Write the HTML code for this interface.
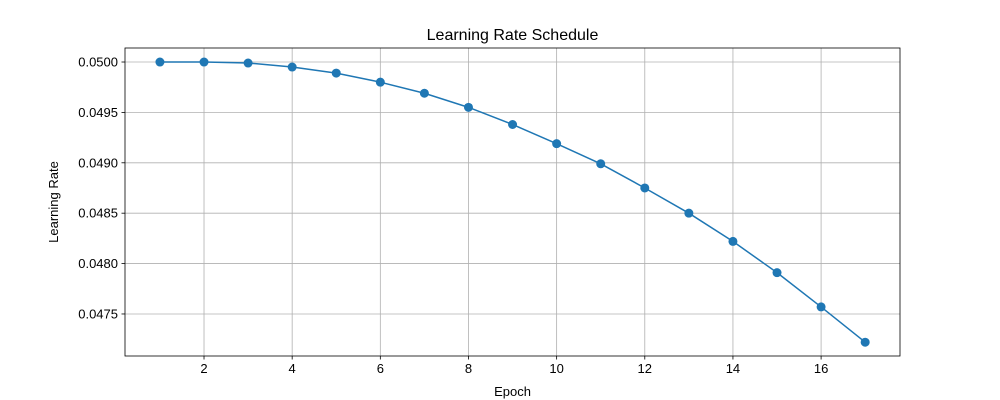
<!DOCTYPE html>
<html><head><meta charset="utf-8"><style>
html,body{margin:0;padding:0;background:#fff;}
svg{display:block;font-family:"Liberation Sans","DejaVu Sans",sans-serif;}
</style></head><body>
<svg id="chart" width="1000" height="400"></svg>
<script>
const epochs = [1,2,3,4,5,6,7,8,9,10,11,12,13,14,15,16,17];
const rates = [0.05000,0.05000,0.04999,0.04995,0.04989,0.04980,0.04969,0.04955,0.04938,0.04919,0.04899,0.04875,0.04850,0.04822,0.04791,0.04757,0.04722];
const xTicks = [2,4,6,8,10,12,14,16];
const yTicks = [0.0475,0.0480,0.0485,0.0490,0.0495,0.0500];
const yTickLabels = ["0.0475","0.0480","0.0485","0.0490","0.0495","0.0500"];

const L=125,R=900,T=48,B=356;
const xMin=0.2074,xMax=17.79,yMin=0.047083,yMax=0.050139;
const sx=v=>L+(v-xMin)/(xMax-xMin)*(R-L);
const sy=v=>B-(v-yMin)/(yMax-yMin)*(B-T);
const svg=document.getElementById('chart');
const NS='http://www.w3.org/2000/svg';
function mk(tag,attrs,parent){const e=document.createElementNS(NS,tag);for(const k in attrs)e.setAttribute(k,attrs[k]);(parent||svg).appendChild(e);return e;}

const grid=mk('g',{});


xTicks.forEach(t=>{
  const x=sx(t);
  const gl=mk('line',{x1:x,x2:x,y1:T,y2:B,stroke:'#b0b0b0','stroke-width':0.8},grid);
  
  
  mk('line',{x1:x,x2:x,y1:B,y2:B+3.5,stroke:'#000','stroke-width':0.8});
  const tx=mk('text',{x:x,y:B+17,'text-anchor':'middle','font-size':13});
  tx.textContent=t;
  
  
});
yTicks.forEach((t,i)=>{
  const y=sy(t);
  const gl=mk('line',{x1:L,x2:R,y1:y,y2:y,stroke:'#b0b0b0','stroke-width':0.8},grid);
  
  
  mk('line',{x1:L-3.5,x2:L,y1:y,y2:y,stroke:'#000','stroke-width':0.8});
  const tx=mk('text',{x:L-7,y:y+4.5,'text-anchor':'end','font-size':13});
  tx.textContent=yTickLabels[i];
  
  
});

const pts=epochs.map((e,i)=>sx(e)+','+sy(rates[i])).join(' ');
const line=mk('polyline',{points:pts,fill:'none',stroke:'#1f77b4','stroke-width':1.5});


epochs.forEach((e,i)=>{
  const c=mk('circle',{cx:sx(e),cy:sy(rates[i]),r:4.5,fill:'#1f77b4'});
  
  
});

const frame=mk('rect',{x:L,y:T,width:R-L,height:B-T,fill:'none',stroke:'#000','stroke-width':0.8});



const title=mk('text',{x:(L+R)/2,y:40,'text-anchor':'middle','font-size':16});
title.textContent='Learning Rate Schedule';


const xl=mk('text',{x:(L+R)/2,y:396,'text-anchor':'middle','font-size':13});
xl.textContent='Epoch';


const yl=mk('text',{x:58,y:(T+B)/2,'text-anchor':'middle','font-size':13,transform:'rotate(-90 58 '+((T+B)/2)+')'});
yl.textContent='Learning Rate';


</script>
</body></html>
